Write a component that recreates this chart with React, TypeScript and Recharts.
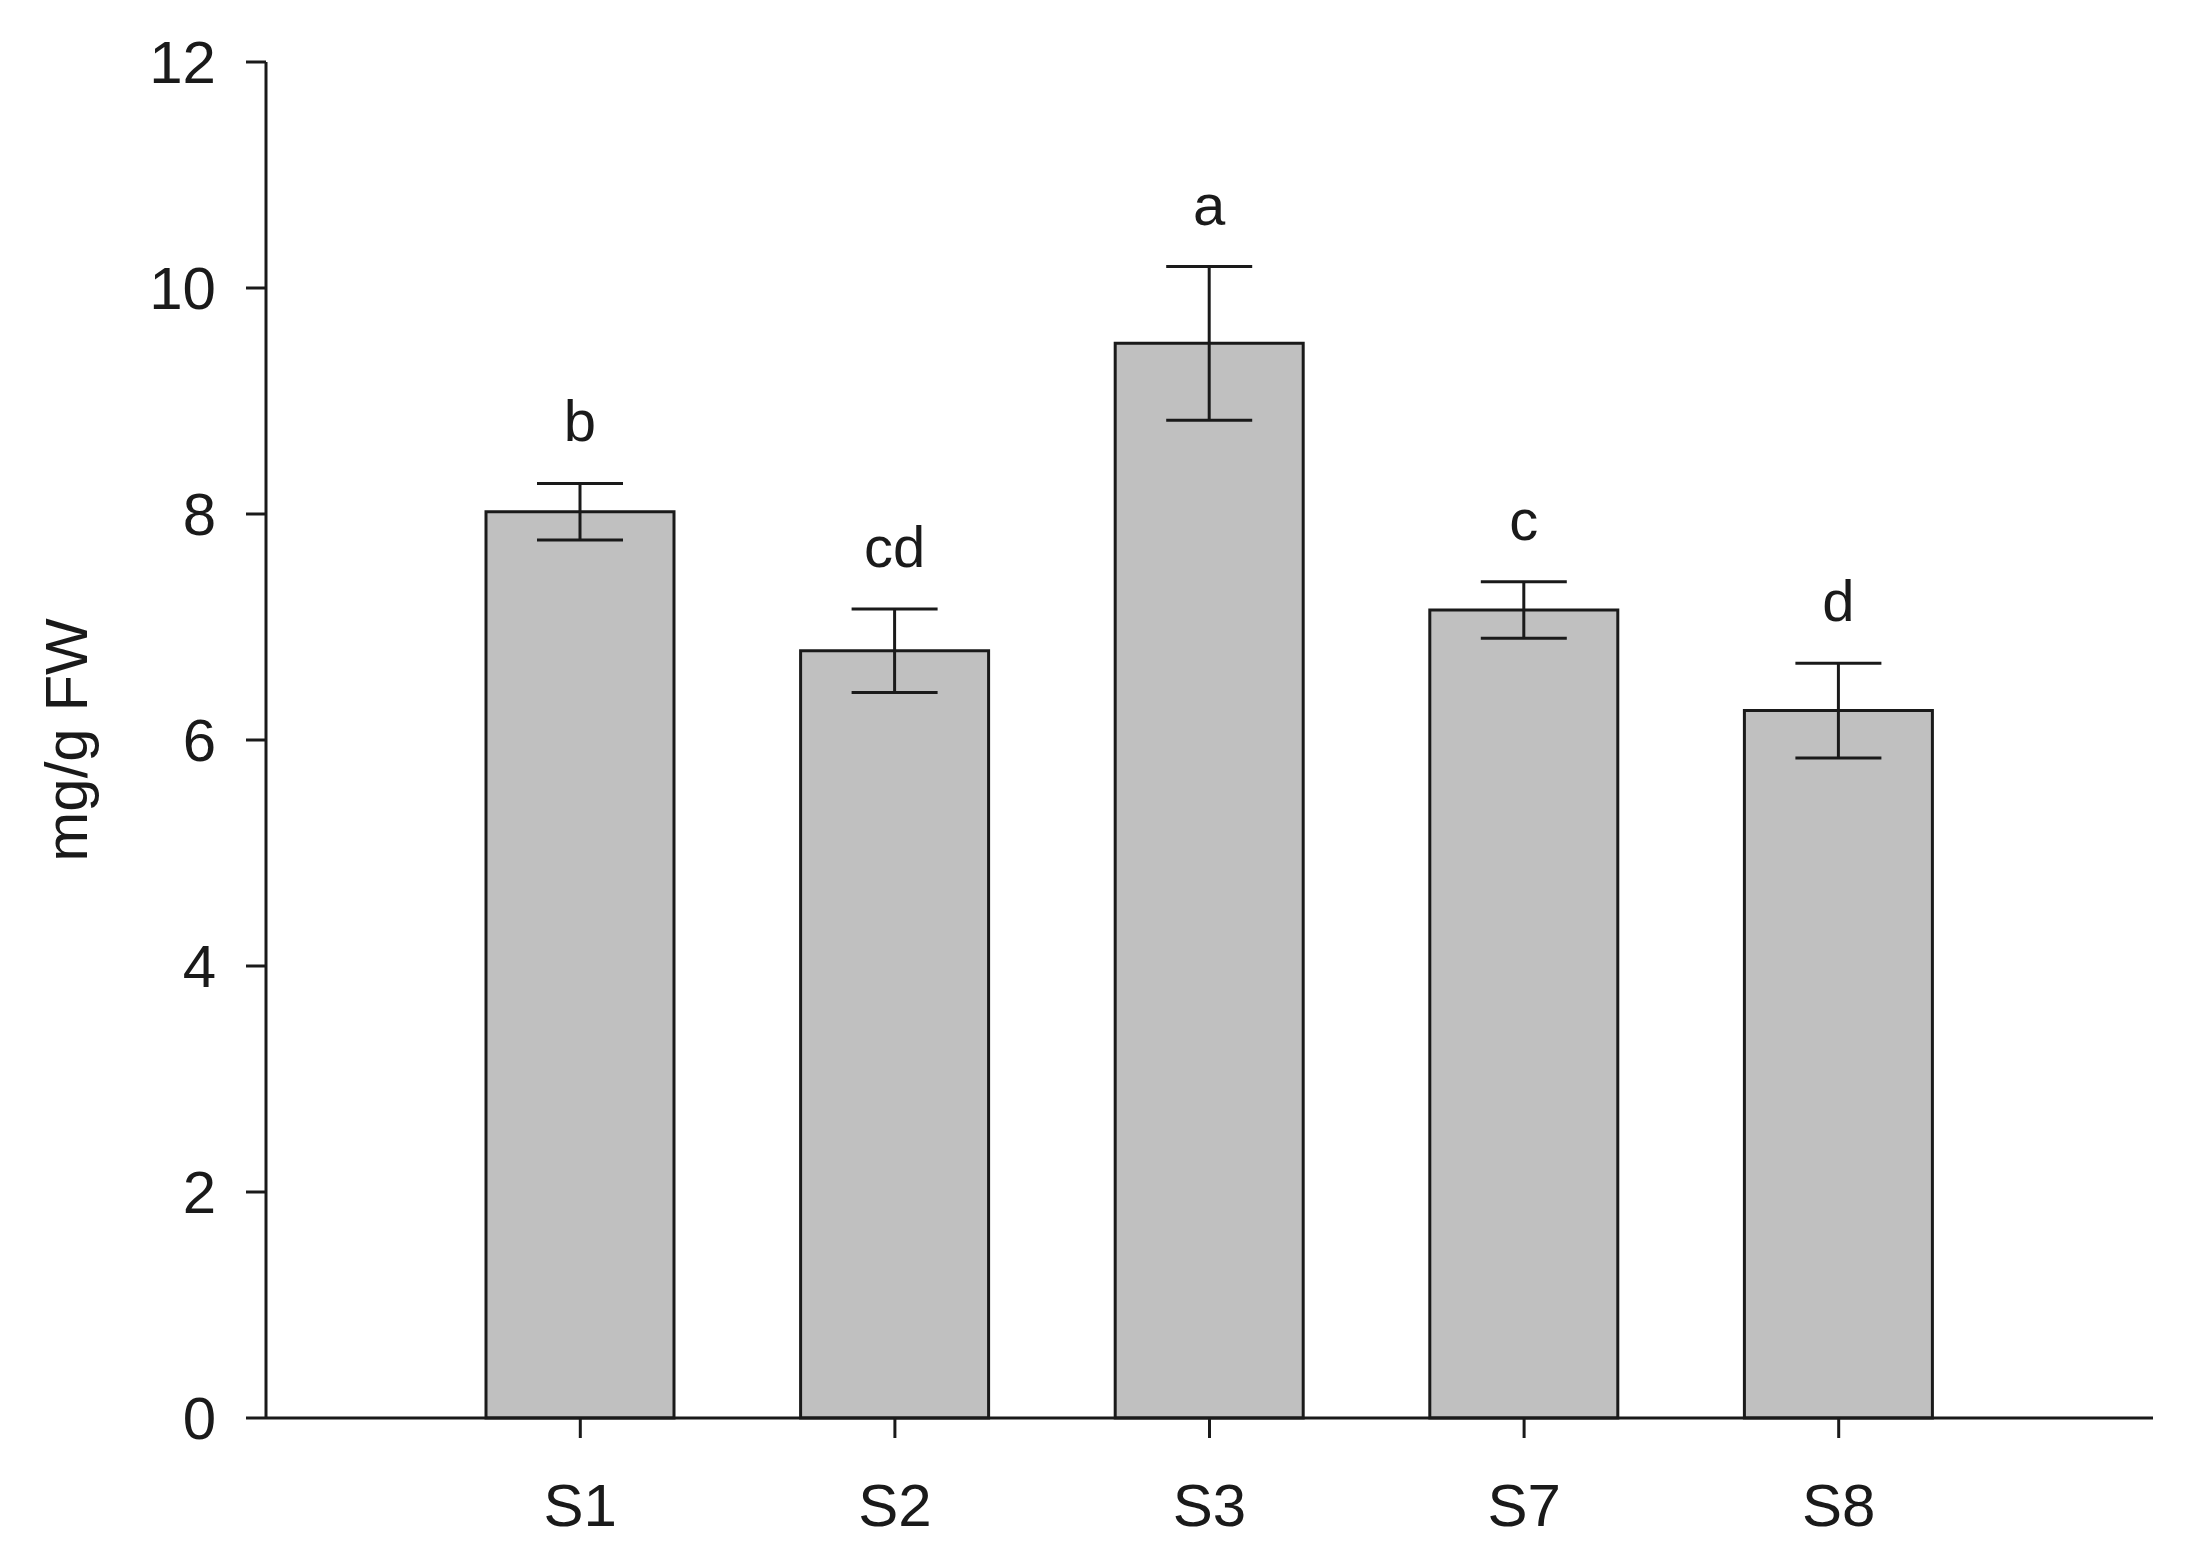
import React from 'react';
import { BarChart, Bar, XAxis, YAxis, ErrorBar, LabelList } from 'recharts';

const samples = ['S1', 'S2', 'S3', 'S7', 'S8'];
const means = [8.02, 6.79, 9.51, 7.15, 6.26];
const errors = [0.25, 0.37, 0.68, 0.25, 0.42];
const letters = ['b', 'cd', 'a', 'c', 'd'];
const yTicks = [0, 2, 4, 6, 8, 10, 12];

const data = samples.map((name, i) => ({ name, value: means[i], err: errors[i] }));

const FONT = '"Liberation Sans", Arial, sans-serif';
const INK = '#1a1a1a';

// letter sits above the error bar top, not the bar top
const LetterLabel = (props: any) => {
  const { x, y, width, height, value, index } = props;
  const pxPerUnit = height / value;
  const top = y - errors[index] * pxPerUnit;
  return (
    <text
      x={x + width / 2}
      y={top - 42}
      textAnchor="middle"
      fontFamily={FONT}
      fontSize={58}
      fill={INK}
    >
      {letters[index]}
    </text>
  );
};

const App = () => {
  return (
    <div style={{ position: 'absolute', left: 0, top: 0, background: '#fff' }}>
      <BarChart
        width={2188}
        height={1567}
        data={data}
        margin={{ top: 62, right: 35, left: 0, bottom: 0 }}
      >
        <XAxis
          dataKey="name"
          height={149}
          padding={{ left: 157, right: 157 }}
          tickSize={20}
          tickMargin={45}
          axisLine={{ stroke: INK, strokeWidth: 3 }}
          tickLine={{ stroke: INK, strokeWidth: 3 }}
          tick={{ fill: INK, fontSize: 60, fontFamily: FONT }}
        />
        <YAxis
          width={266}
          domain={[0, 12]}
          ticks={yTicks}
          interval={0}
          tickSize={20}
          tickMargin={30}
          axisLine={{ stroke: INK, strokeWidth: 3 }}
          tickLine={{ stroke: INK, strokeWidth: 3 }}
          tick={{ fill: INK, fontSize: 60, fontFamily: FONT }}
          label={{
            value: 'mg/g FW',
            angle: -90,
            position: 'insideLeft',
            offset: 66,
            style: { textAnchor: 'middle', fill: INK, fontSize: 60, fontFamily: FONT },
          }}
        />
        <Bar
          dataKey="value"
          barSize={188}
          fill="#c0c0c0"
          stroke={INK}
          strokeWidth={3}
          isAnimationActive={false}
        >
          <ErrorBar dataKey="err" direction="y" width={43} stroke={INK} strokeWidth={3} />
          <LabelList dataKey="value" content={LetterLabel} />
        </Bar>
      </BarChart>
    </div>
  );
};

export default App;
